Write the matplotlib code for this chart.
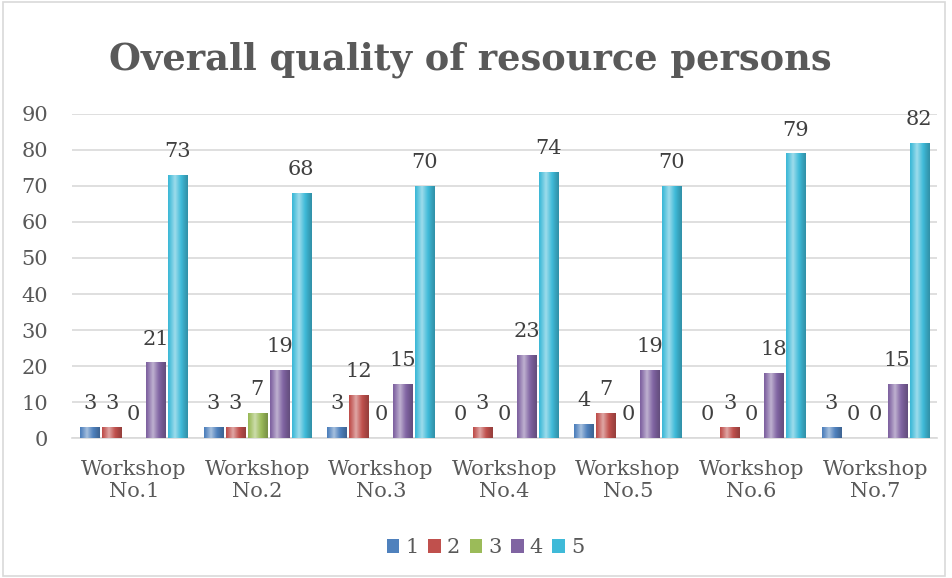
import matplotlib.pyplot as plt
import numpy as np
from matplotlib.colors import to_rgb
from matplotlib.patches import Rectangle

workshops = ["Workshop\nNo.1", "Workshop\nNo.2", "Workshop\nNo.3", "Workshop\nNo.4",
             "Workshop\nNo.5", "Workshop\nNo.6", "Workshop\nNo.7"]
ratings = ["1", "2", "3", "4", "5"]
r1 = [3, 3, 3, 0, 4, 0, 3]
r2 = [3, 3, 12, 3, 7, 3, 0]
r3 = [0, 7, 0, 0, 0, 0, 0]
r4 = [21, 19, 15, 23, 19, 18, 15]
r5 = [73, 68, 70, 74, 70, 79, 82]
series = [r1, r2, r3, r4, r5]
colors = ["#4F81BD", "#C0504D", "#9BBB59", "#8064A2", "#3FBAD8"]

plt.rcParams["font.family"] = ["DejaVu Serif"]
text_col = "#595959"

fig = plt.figure(figsize=(9.52, 5.78), dpi=100)
ax = fig.add_axes([0.0756, 0.242, 0.9086, 0.561])

x = np.arange(len(workshops))
step, width = 0.178, 0.155


def shade(base):
    # cylinder-like horizontal gradient: dark edges, light highlight
    c = np.array(to_rgb(base))
    t = np.linspace(0, 1, 64)
    light = np.clip(1 - np.abs(t - 0.35) / 0.65, 0, 1) ** 1.2
    rows = []
    for v in light:
        if v > 0.45:
            rows.append(c + (1 - c) * (v - 0.45) * 0.9)
        else:
            rows.append(c * (0.78 + 0.5 * v))
    return np.array(rows)[None, :, :]


for i, (vals, col) in enumerate(zip(series, colors)):
    pos = x + (i - 2) * step
    bars = ax.bar(pos, vals, width, color=col, label=ratings[i], zorder=2)
    grad = shade(col)
    for b, v in zip(bars, vals):
        if v > 0:
            x0, y0 = b.get_x(), b.get_y()
            im = ax.imshow(grad, extent=(x0, x0 + b.get_width(), y0, y0 + b.get_height()),
                           aspect="auto", zorder=3, interpolation="bilinear")
            im.set_clip_path(b)
        ax.annotate(str(v), (b.get_x() + b.get_width() / 2, v), xytext=(0, 10),
                    textcoords="offset points", ha="center", va="bottom",
                    fontsize=15, color="#404040", zorder=4)

ax.set_xlim(-0.5, len(workshops) - 0.5)
ax.set_ylim(0, 90)
ax.set_yticks(range(0, 91, 10))
ax.set_xticks(x)
ax.set_xticklabels(workshops)
ax.tick_params(axis="both", length=0, labelsize=15, labelcolor=text_col)
ax.tick_params(axis="x", pad=16)
ax.tick_params(axis="y", pad=17)
ax.yaxis.grid(True, color="#D9D9D9", linewidth=1.2, zorder=0)
ax.set_axisbelow(True)
for s in ["top", "right", "left"]:
    ax.spines[s].set_visible(False)
ax.spines["bottom"].set_color("#D9D9D9")
ax.spines["bottom"].set_linewidth(1.2)

fig.text(0.494, 0.896, "Overall quality of resource persons", ha="center", va="center",
         fontsize=26.5, fontweight="bold", color=text_col)

leg = fig.legend(loc="center", bbox_to_anchor=(0.51, 0.052), ncol=5, frameon=False,
                 fontsize=15, handlelength=0.6, handleheight=0.6, handletextpad=0.3,
                 columnspacing=0.45, labelcolor=text_col)

fig.patches.append(Rectangle((0.003, 0.003), 0.99, 0.994, transform=fig.transFigure,
                             fill=False, edgecolor="#D9D9D9", linewidth=1.2))

fig.savefig("out.png", dpi=100)
